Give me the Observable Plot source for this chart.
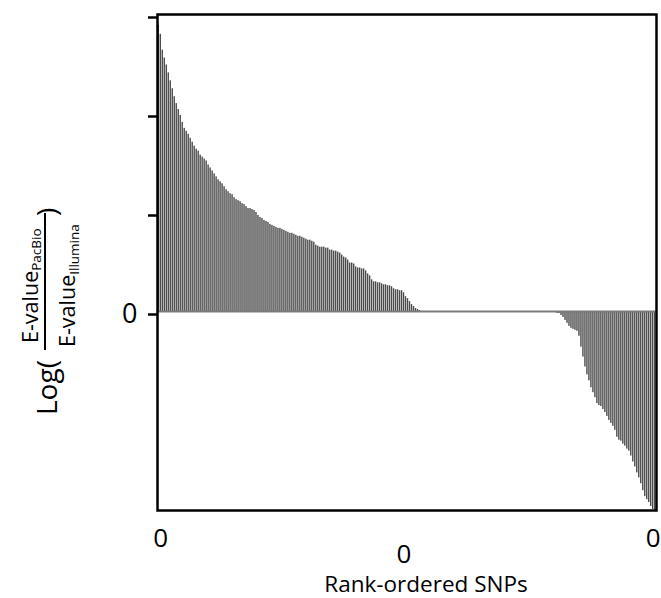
<!DOCTYPE html>
<html>
<head>
<meta charset="utf-8">
<script src="https://cdn.jsdelivr.net/npm/d3@7"></script>
<script src="https://cdn.jsdelivr.net/npm/@observablehq/plot@0.6"></script>
<style>
  html, body { margin: 0; padding: 0; background: white; }
  #chart { width: 661px; height: 598px; }
</style>
</head>
<body>
<div id="chart"></div>
<script>
// Log ratio values for rank-ordered SNPs
const positiveValues = [
  2.89, 2.80, 2.64, 2.56, 2.49, 2.41, 2.33, 2.25, 2.17, 2.10,
  2.04, 1.98, 1.91, 1.85, 1.82, 1.79, 1.75, 1.71, 1.67, 1.64,
  1.62, 1.58, 1.56, 1.54, 1.52, 1.48, 1.45, 1.42, 1.39, 1.36,
  1.33, 1.31, 1.29, 1.26, 1.23, 1.21, 1.19, 1.18, 1.15, 1.13,
  1.12, 1.11, 1.09, 1.08, 1.06, 1.04, 1.04, 1.03, 1.02, 1.00,
  0.97, 0.95, 0.94, 0.92, 0.91, 0.90, 0.88, 0.87, 0.86, 0.85,
  0.84, 0.84, 0.83, 0.82, 0.81, 0.80, 0.79, 0.79, 0.78, 0.77,
  0.76, 0.76, 0.75, 0.74, 0.73, 0.72, 0.72, 0.71, 0.70, 0.67,
  0.66, 0.65, 0.65, 0.65, 0.64, 0.64, 0.62, 0.62, 0.61, 0.61,
  0.60, 0.59, 0.57, 0.55, 0.54, 0.52, 0.49, 0.49, 0.48, 0.45,
  0.44, 0.44, 0.43, 0.43, 0.41, 0.38, 0.36, 0.32, 0.30, 0.30,
  0.29, 0.29, 0.28, 0.27, 0.27, 0.26, 0.26, 0.25, 0.23, 0.22,
  0.22, 0.21, 0.21, 0.19, 0.15, 0.13, 0.10, 0.07, 0.05, 0.03,
  0.02, 0.01
];
const zeroValues = [
  0, 0, 0, 0, 0, 0, 0, 0, 0, 0,
  0, 0, 0, 0, 0, 0, 0, 0, 0, 0,
  0, 0, 0, 0, 0, 0, 0, 0, 0, 0,
  0, 0, 0, 0, 0, 0, 0, 0, 0, 0,
  0, 0, 0, 0, 0, 0, 0, 0, 0, 0,
  0, 0, 0, 0, 0, 0, 0, 0, 0, 0,
  0, 0, 0
];
const negativeValues = [
  -0.01, -0.01, -0.01, -0.01, -0.01, -0.02, -0.02, -0.04, -0.06, -0.09,
  -0.12, -0.15, -0.17, -0.18, -0.19, -0.20, -0.25, -0.36, -0.46, -0.56,
  -0.64, -0.70, -0.77, -0.82, -0.87, -0.93, -0.95, -0.96, -0.99, -1.02,
  -1.06, -1.10, -1.13, -1.16, -1.20, -1.27, -1.30, -1.31, -1.34, -1.36,
  -1.39, -1.41, -1.46, -1.52, -1.57, -1.63, -1.68, -1.74, -1.81, -1.87,
  -1.90, -1.93, -1.97, -2.00, -2.01
];

const yTicks = [0, 1, 2, 3];
const yTickLabels = ["0", "", "", ""];
const xTickRanks = [1, 123, 248];
const xTickLabels = ["0", "0", "0"];
const xTitle = "Rank-ordered SNPs";

const values = [...positiveValues, ...zeroValues, ...negativeValues];
const data = values.map((v, i) => ({rank: i, value: v}));
const ranks = data.map(d => d.rank);

const FONT = "'Open Sans', 'DejaVu Sans', sans-serif";

const chart = Plot.plot({
  width: 661,
  height: 598,
  marginLeft: 157,
  marginRight: 5,
  marginTop: 14,
  marginBottom: 88,
  style: {fontFamily: FONT, background: "white", color: "black"},
  x: {type: "band", domain: ranks, padding: 0.3, axis: null},
  y: {domain: [-2.01, 3], axis: null},
  marks: [
    Plot.barY(data, {x: "rank", y: "value", fill: "#4a4a4a"}),
    Plot.ruleY([0], {stroke: "#7a7a7a", strokeWidth: 2}),
    Plot.axisY({
      ticks: yTicks,
      tickSize: 9,
      tickPadding: 11,
      strokeWidth: 2.5,
      fontSize: 27,
      dy: 3,
      tickFormat: d => yTickLabels[yTicks.indexOf(d)],
      label: null
    }),
    Plot.axisX({
      ticks: [xTickRanks[0], xTickRanks[2]],
      tickSize: 0,
      tickPadding: 18,
      fontSize: 26,
      tickFormat: d => xTickLabels[xTickRanks.indexOf(d)],
      label: null
    }),
    Plot.axisX({
      ticks: [xTickRanks[1]],
      tickSize: 0,
      tickPadding: 34,
      fontSize: 26,
      tickFormat: d => xTickLabels[xTickRanks.indexOf(d)],
      label: null
    }),
    Plot.frame({stroke: "black", strokeWidth: 2.5})
  ]
});

document.getElementById("chart").appendChild(chart);

const svg = d3.select(chart);

// x axis title
svg.append("text")
  .attr("x", 426)
  .attr("y", 592)
  .attr("text-anchor", "middle")
  .attr("font-family", FONT)
  .attr("font-size", 22.5)
  .attr("fill", "black")
  .text(xTitle);

// y axis label: Log( E-value_PacBio / E-value_Illumina ), rotated
function rotText(sx, sy, size) {
  return svg.append("text")
    .attr("transform", `translate(${sx},${sy}) rotate(-90)`)
    .attr("x", 0).attr("y", 0)
    .attr("text-anchor", "start")
    .attr("font-family", FONT)
    .attr("font-size", size)
    .attr("fill", "black");
}

rotText(57, 415, 28).text("Log(");
const num = rotText(38, 343, 21.5);
num.append("tspan").text("E-value");
num.append("tspan").attr("font-size", 13.5).attr("dy", 3).text("PacBio");
svg.append("line")
  .attr("x1", 45).attr("x2", 45)
  .attr("y1", 213).attr("y2", 350)
  .attr("stroke", "black").attr("stroke-width", 2);
const den = rotText(75, 347, 21.5);
den.append("tspan").text("E-value");
den.append("tspan").attr("font-size", 13.5).attr("dy", 4).text("Illumina");
rotText(57, 216, 28).text(")");
</script>
</body>
</html>
